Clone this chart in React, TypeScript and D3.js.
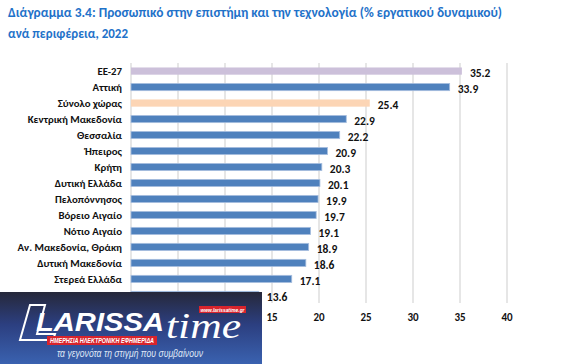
import React from 'react';
import * as d3 from 'd3';

const title1 = 'Διάγραμμα 3.4: Προσωπικό στην επιστήμη και την τεχνολογία (% εργατικού δυναμικού)';
const title2 = 'ανά περιφέρεια, 2022';

const regions = [
  'ΕΕ-27',
  'Αττική',
  'Σύνολο χώρας',
  'Κεντρική Μακεδονία',
  'Θεσσαλία',
  'Ήπειρος',
  'Κρήτη',
  'Δυτική Ελλάδα',
  'Πελοπόννησος',
  'Βόρειο Αιγαίο',
  'Νότιο Αιγαίο',
  'Αν. Μακεδονία, Θράκη',
  'Δυτική Μακεδονία',
  'Στερεά Ελλάδα',
  'Ιόνια Νησιά',
];
const values = [35.2, 33.9, 25.4, 22.9, 22.2, 20.9, 20.3, 20.1, 19.9, 19.7, 19.1, 18.9, 18.6, 17.1, 13.6];
const xTicks = [0, 5, 10, 15, 20, 25, 30, 35, 40];

const W = 583;
const H = 364;
const font = "Carlito, Calibri, 'Noto Sans', 'Open Sans', sans-serif";

function barColor(name: string) {
  if (name === 'ΕΕ-27') return '#ccc0da';
  if (name === 'Σύνολο χώρας') return '#fcd5b5';
  return '#4f81bd';
}

function Logo() {
  // newspaper badge covering the lower left corner
  return (
    <g>
      <defs>
        <linearGradient id="logoBg" x1="0" y1="0" x2="0" y2="1">
          <stop offset="0" stopColor="#26283a" />
          <stop offset="0.45" stopColor="#2c3f80" />
          <stop offset="1" stopColor="#3a62b0" />
        </linearGradient>
      </defs>
      <rect x={0} y={292} width={262} height={72} fill="url(#logoBg)" />
      <path d="M30,305 L45,305 L37,334 L55,334 L53,340 L20,340 Z" fill="none" stroke="#fff" strokeWidth={2} />
      <text x={36} y={331} fill="#fff" fontFamily="'Liberation Sans', Arial, sans-serif" fontWeight="bold"
        fontStyle="italic" fontSize={26} textLength={128} lengthAdjust="spacingAndGlyphs">LARISSA</text>
      <rect x={47} y={336} width={110} height={9} fill="#d8242c" />
      <text x={102} y={343} fill="#fff" fontFamily="'Liberation Sans', Arial, sans-serif" fontWeight="bold"
        fontStyle="italic" fontSize={6.5} textAnchor="middle" textLength={104} lengthAdjust="spacingAndGlyphs">
        ΗΜΕΡΗΣΙΑ ΗΛΕΚΤΡΟΝΙΚΗ ΕΦΗΜΕΡΙΔΑ
      </text>
      <rect x={199} y={306} width={47} height={7} fill="#d8242c" />
      <text x={222.5} y={311.5} fill="#fff" fontFamily="'Liberation Sans', Arial, sans-serif" fontWeight="bold"
        fontStyle="italic" fontSize={5.5} textAnchor="middle" textLength={44} lengthAdjust="spacingAndGlyphs">
        www.larissatime.gr
      </text>
      <text x={166} y={338} fill="#fff" fontFamily="'Liberation Serif', 'DejaVu Serif', serif"
        fontStyle="italic" fontSize={36} textLength={75} lengthAdjust="spacingAndGlyphs">time</text>
      <text x={130} y={357} fill="#dfe6f5" fontFamily="'Liberation Sans', Arial, sans-serif"
        fontStyle="italic" fontSize={10.5} textAnchor="middle" textLength={146} lengthAdjust="spacingAndGlyphs">
        τα γεγονότα τη στιγμή που συμβαίνουν
      </text>
    </g>
  );
}

export default function App() {
  const x = d3.scaleLinear().domain([0, 40]).range([131, 507]);
  const y = d3.scaleBand<string>().domain(regions).range([63, 303]).paddingInner(0.55).paddingOuter(0.28);
  const bh = y.bandwidth();

  return (
    <svg width={W} height={H} style={{ position: 'fixed', left: 0, top: 0, background: '#fff' }}>
      <text x={8} y={17} fill="#1f72c9" fontFamily={font} fontWeight="bold" fontSize={13.5}
        textLength={494} lengthAdjust="spacingAndGlyphs">{title1}</text>
      <text x={8} y={38} fill="#1f72c9" fontFamily={font} fontWeight="bold" fontSize={13.5}
        textLength={120} lengthAdjust="spacingAndGlyphs">{title2}</text>

      {xTicks.map(t => (
        <line key={'g' + t} x1={x(t)} x2={x(t)} y1={63} y2={303} stroke="#d9d9d9" strokeWidth={1.3} />
      ))}

      {regions.map((r, i) => {
        const yy = y(r)!;
        return (
          <g key={r}>
            <rect x={x(0)} y={yy} width={x(values[i]) - x(0)} height={bh} fill={barColor(r)}
              stroke={r === 'ΕΕ-27' || r === 'Σύνολο χώρας' ? 'none' : '#a8bfdf'} strokeWidth={0.8} />
            <text x={122} y={yy + bh / 2} dy="0.35em" textAnchor="end" fontFamily={font}
              fontWeight="bold" fontSize={10.8} fill="#111">{r}</text>
            <text x={x(values[i]) + 8} y={yy + bh / 2 + 2} dy="0.35em" fontFamily={font}
              fontWeight="bold" fontSize={11.5} fill="#111">{values[i].toFixed(1)}</text>
          </g>
        );
      })}

      {xTicks.map(t => (
        <text key={'t' + t} x={x(t)} y={317} dy="0.35em" textAnchor="middle" fontFamily={font}
          fontWeight="bold" fontSize={11} fill="#111">{t}</text>
      ))}

      <Logo />
    </svg>
  );
}
